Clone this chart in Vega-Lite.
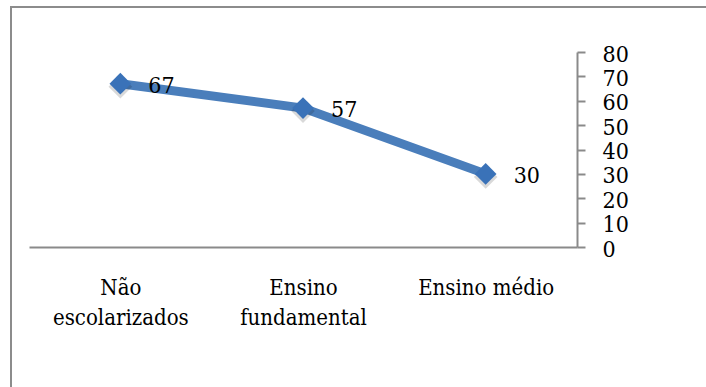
{
  "$schema": "https://vega.github.io/schema/vega-lite/v6.json",
  "autosize": "none",
  "width": 698,
  "height": 383,
  "padding": {"left": 11, "top": 7, "right": -3, "bottom": -3},
  "background": "white",
  "config": {
    "view": {"stroke": "#8c8c8c", "strokeWidth": 2},
    "font": "DejaVu Serif Condensed",
    "axis": {"grid": false, "title": null, "labelFont": "DejaVu Serif Condensed", "labelFontSize": 22, "labelColor": "#000000", "domainColor": "#8a8a8a", "domainWidth": 2, "tickColor": "#8a8a8a", "tickWidth": 2}
  },
  "data": {
    "values": [
      {"categoria": "Não escolarizados", "valor": 67},
      {"categoria": "Ensino fundamental", "valor": 57},
      {"categoria": "Ensino médio", "valor": 30}
    ]
  },
  "encoding": {
    "x": {
      "field": "categoria", "type": "nominal", "sort": null,
      "scale": {"range": [18, 566], "paddingInner": 0, "paddingOuter": 0},
      "axis": {"orient": "bottom", "offset": -143, "ticks": false, "tickSize": 0, "labelAngle": 0, "labelPadding": 30, "labelLineHeight": 30, "labelBaseline": "top", "labelExpr": "datum.label == 'Ensino médio' ? datum.label : split(datum.label, ' ')"}
    },
    "y": {
      "field": "valor", "type": "quantitative",
      "scale": {"domain": [0, 80], "range": [240, 45], "nice": false, "zero": true},
      "axis": {"orient": "right", "offset": -132, "values": [0, 10, 20, 30, 40, 50, 60, 70, 80], "tickSize": 8, "labelPadding": 17, "labelAlign": "left", "labelOffset": 2, "labelFontSize": 23}
    }
  },
  "layer": [
    {"mark": {"type": "line", "color": "#4a7ebb", "strokeWidth": 9}},
    {"mark": {"type": "point", "shape": "diamond", "filled": true, "color": "#000000", "opacity": 0.15, "size": 560, "yOffset": 3}},
    {"mark": {"type": "point", "shape": "diamond", "filled": true, "color": "#3a72b8", "opacity": 1, "size": 470}},
    {"mark": {"type": "text", "align": "left", "baseline": "middle", "dx": 28, "dy": 2, "fontSize": 23, "font": "DejaVu Serif Condensed", "color": "#000000"},
     "encoding": {"text": {"field": "valor", "type": "quantitative"}}}
  ]
}
